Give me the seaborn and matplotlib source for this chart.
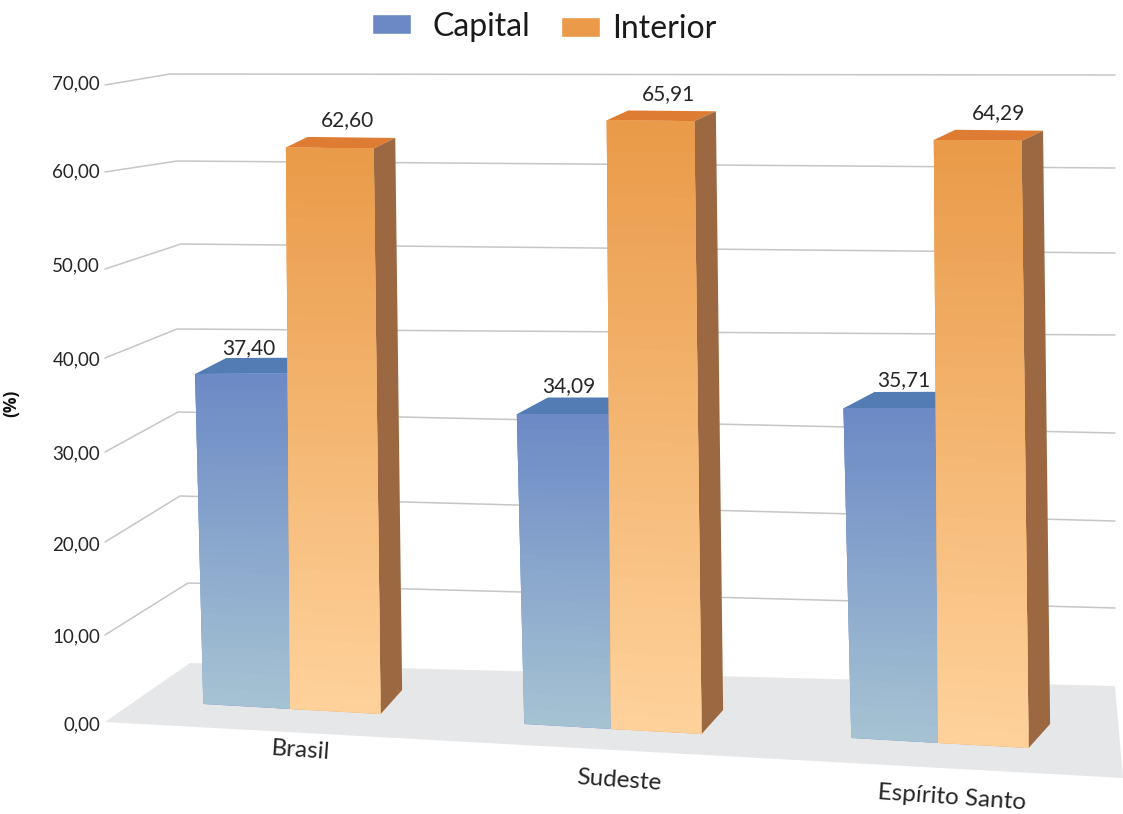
import numpy as np
import pandas as pd
import matplotlib
matplotlib.use("Agg")
import matplotlib.pyplot as plt
import matplotlib.transforms as mtransforms
from matplotlib.colors import to_rgb
from matplotlib.patches import Polygon
import seaborn as sns

# Values
locais = ["Brasil", "Sudeste", "Espírito Santo"]
capital = [37.40, 34.09, 35.71]
interior = [62.60, 65.91, 64.29]
grupos = ["Capital", "Interior"]
ticks = [0, 10, 20, 30, 40, 50, 60, 70]

# Colours
CORES = {"Capital": "#6c89c6", "Interior": "#ea9a48"}
BASE = {"Capital": "#a6c3d3", "Interior": "#fed29c"}
TOPO = {"Capital": "#527cb3", "Interior": "#dd7c32"}
LATERAL = "#9c6841"
PISO = "#e6e7e9"
GRADE = "#c6c6c6"
TEXTO = "#262626"

# Perspective calibration, per category and in image pixels
BAR_W = 0.556
ORIG_X = np.array([290.0, 611.0, 938.0])
ORIG_Y = np.array([709.0, 729.0, 743.0])
ESCALA_Y = np.array([8.97, 9.235, 9.38])

# Box of the chart: left wall and back wall, per tick
GRADE_X0, GRADE_X1 = 105, 1115
FRENTE_Y = [722, 635, 542, 452, 358, 269, 172, 85]
CANTO_X = [190, 188, 180, 178, 177, 181, 177, 170]
CANTO_Y = [663, 583, 496, 412, 329, 244, 161, 74]
FUNDO_Y = [686, 608, 521, 433, 335, 253, 168, 75]
PISO_FRENTE_DIR = (1123, 778)
ROTULO_Y = [725, 637, 545, 454, 360, 266, 172, 84]
CAT_X = [301, 619, 952]
CAT_Y = [751, 780, 798]

# Value labels, placed relative to the centre of each bar's top
ROTULO_DX = {"Capital": [7, 6, 14], "Interior": [18, 18, 21]}
ROTULO_DY = {"Capital": [-26, -28, -28], "Interior": [-27.5, -27, -27.5]}

W, H = 1123, 814
DPI = 100


def warp(uv):
    """Project (category position, percentage) to image pixels."""
    uv = np.asarray(uv, dtype=float)
    u, v = uv[..., 0], uv[..., 1]
    i = np.clip(np.round(u), 0, 2).astype(int)
    l = u - i
    neg = l < 0
    sx = np.where(neg, 312.0, 326.0)
    lean = 0.065 + np.where(neg, -l * 0.55, l * 0.162)
    x = ORIG_X[i] + l * sx - lean * v
    sy = ESCALA_Y[i] + np.where(neg, l * 0.53, l * 0.23)
    y = ORIG_Y[i] + l * 18.0 - v * sy
    return np.stack([x, y], axis=-1)


def profundidade(grupo, v):
    """Offset of the rear edge of a bar at height v."""
    dx = 31.0 if grupo == "Capital" else 21.5
    return np.array([dx, -24.0 + 0.215 * v])


class Perspectiva(mtransforms.Transform):
    input_dims = 2
    output_dims = 2
    is_separable = False
    has_inverse = False

    def transform_non_affine(self, values):
        return warp(values)


fmt = lambda v: f"{v:.2f}".replace(".", ",")

sns.set_theme(style="white")
plt.rcParams["font.family"] = ["Lato", "DejaVu Sans"]

df = pd.DataFrame({
    "local": locais * 2,
    "grupo": ["Capital"] * 3 + ["Interior"] * 3,
    "pct": capital + interior,
})

fig = plt.figure(figsize=(W / DPI, H / DPI), dpi=DPI, facecolor="white")
Y0, Y70, X_ESQ = 723, 82, 103
ax = fig.add_axes([X_ESQ / W, 1 - Y0 / H, (W - X_ESQ) / W, (Y0 - Y70) / H])
ax.patch.set_visible(False)

sns.barplot(data=df, x="local", y="pct", hue="grupo", order=locais, hue_order=grupos,
            palette=CORES, width=BAR_W, gap=0, saturation=1, ax=ax)

# Image pixels (origin top left) to display coordinates
pix = mtransforms.Affine2D().scale(1, -1).translate(0, H).scale(fig.dpi / DPI)
proj = Perspectiva() + pix

# Floor and wall grid
ax.add_patch(Polygon([(GRADE_X0, FRENTE_Y[0]), (CANTO_X[0], CANTO_Y[0]),
                      (GRADE_X1, FUNDO_Y[0]), PISO_FRENTE_DIR],
                     closed=True, fc=PISO, ec="none", transform=pix, zorder=0.5, clip_on=False))
for k in range(1, len(ticks)):
    ax.plot([GRADE_X0, CANTO_X[k], GRADE_X1], [FRENTE_Y[k], CANTO_Y[k], FUNDO_Y[k]],
            color=GRADE, lw=1.1, transform=pix, zorder=0.6, clip_on=False, solid_joinstyle="miter")

# Bars: the seaborn rectangles go through the projection, then shading and 3D faces
N_FAIXAS = 40
for s, (grupo, cont) in enumerate(zip(grupos, ax.containers)):
    z = 2 + s
    topo_rgb, base_rgb = np.array(to_rgb(CORES[grupo])), np.array(to_rgb(BASE[grupo]))
    for c, bar in enumerate(cont.patches):
        x0, largura, altura = bar.get_x(), bar.get_width(), bar.get_height()
        x1 = x0 + largura
        bar.set_transform(proj)
        bar.set_clip_on(False)
        bar.set_linewidth(0)
        bar.set_zorder(z)
        bar.set_snap(False)
        fl, fr = warp([x0, altura]), warp([x1, altura])
        bl, br = warp([x0, 0.0]), warp([x1, 0.0])
        d_top, d_bot = profundidade(grupo, altura), profundidade(grupo, 0.0)
        ax.add_patch(Polygon([fl, fr, fr + d_top, fl + d_top], closed=True, fc=TOPO[grupo],
                             ec="none", transform=pix, zorder=z - 0.2, clip_on=False, snap=False))
        ax.add_patch(Polygon([fr, br, br + d_bot, fr + d_top], closed=True, fc=LATERAL,
                             ec="none", transform=pix, zorder=z - 0.2, clip_on=False, snap=False))
        # Vertical shading: each band reaches into the next one so no seams show
        for j in range(N_FAIXAS):
            t0 = j / N_FAIXAS
            t1 = min((j + 2) / N_FAIXAS, 1.0)
            cor = base_rgb + (topo_rgb - base_rgb) * (t0 + 0.5 / N_FAIXAS)
            ax.add_patch(Polygon([(x0, altura * t0), (x1, altura * t0),
                                  (x1, altura * t1), (x0, altura * t1)],
                                 closed=True, fc=cor, ec="none", transform=proj,
                                 zorder=z + 0.01, clip_on=False, snap=False))
        # Value above the bar
        meio = warp([(x0 + x1) / 2, altura])
        ax.text(meio[0] + ROTULO_DX[grupo][c], meio[1] + ROTULO_DY[grupo][c], fmt(altura), transform=pix,
                ha="center", va="center", fontsize=15, color=TEXTO, zorder=6, clip_on=False)

# Axes
ax.set_ylim(0, 70)
esc_x = (CAT_X[2] - CAT_X[0]) / 2
ax.set_xlim((X_ESQ - CAT_X[0]) / esc_x, (W - CAT_X[0]) / esc_x)
ax.autoscale(False)
sns.despine(ax=ax, left=True, bottom=True)
ax.grid(False)
ax.set_yticks(ticks, [fmt(t) for t in ticks])
ax.set_xticks(range(len(locais)), locais)
ax.tick_params(axis="both", length=0, pad=2)
ax.tick_params(axis="y", labelsize=13.5, labelcolor=TEXTO)
ax.tick_params(axis="x", labelsize=17.5, labelcolor=TEXTO, pad=0)
ax.set_xlabel("")
ax.set_ylabel("(%)", fontsize=12.5, fontweight="bold", color="#111111", family=["Open Sans", "DejaVu Sans"])
ax.yaxis.set_label_coords((20 - X_ESQ) / (W - X_ESQ), (Y0 - 403) / (Y0 - Y70))

# Tick labels follow the perspective of the box
fig.canvas.draw()
for t, lab, alvo in zip(ticks, ax.get_yticklabels(), ROTULO_Y):
    linear = Y0 + (Y70 - Y0) * t / 70
    lab.set_transform(lab.get_transform() + mtransforms.Affine2D().translate(0, -(alvo - linear)))
    lab.set_va("center")
for i, (lab, cx, cy) in enumerate(zip(ax.get_xticklabels(), CAT_X, CAT_Y)):
    linear = CAT_X[0] + esc_x * i
    lab.set_rotation(-4)
    lab.set_rotation_mode("anchor")
    lab.set_ha("center")
    lab.set_va("center")
    lab.set_transform(lab.get_transform()
                      + mtransforms.Affine2D().translate(cx - linear, -(cy - Y0)))

# Legend above the box; the second entry sits a little lower and tighter
sns.move_legend(ax, "center", bbox_to_anchor=(550.5 / W, 1 - 26.5 / H), bbox_transform=fig.transFigure,
                ncols=2, title=None, frameon=False, fontsize=23, labelcolor="#1a1a1a",
                handlelength=1.23, handleheight=0.6, handletextpad=0.66, columnspacing=1.09,
                borderpad=0, borderaxespad=0)
leg = ax.get_legend()
leg.get_texts()[1].set_position((-12.5, -2.5))
seg = leg.legend_handles[1]
seg.set_x(seg.get_x() - 4 * 0.72)
seg.set_y(seg.get_y() - 3 * 0.72)

fig.savefig("out.png", dpi=DPI)
